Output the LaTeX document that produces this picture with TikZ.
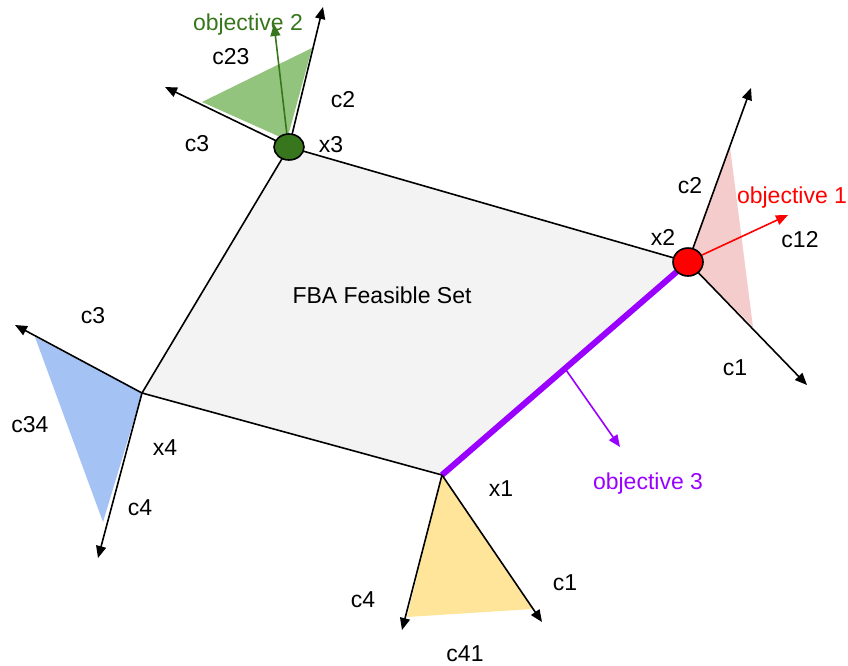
\documentclass[tikz,border=0pt]{standalone}
\usepackage{fontspec}
\setmainfont{Liberation Sans}
\usetikzlibrary{arrows.meta,shapes.geometric,calc}
\definecolor{fset}{HTML}{F3F3F3}
\definecolor{pinkfill}{HTML}{F4CCCC}
\definecolor{greenfill}{HTML}{93C47D}
\definecolor{bluefill}{HTML}{A4C2F4}
\definecolor{yellowfill}{HTML}{FFE599}
\definecolor{objpurple}{HTML}{9900FF}
\definecolor{objred}{HTML}{FF0000}
\definecolor{objgreen}{HTML}{38761D}
\begin{document}
\begin{tikzpicture}[x=1pt,y=-1pt,
  lbl/.style={font=\fontsize{23}{27}\selectfont, inner sep=0pt},
  ray/.style={draw=black, line width=1.6pt, -{Triangle[length=12pt,width=10pt]}},
  objarrow/.style={line width=1.6pt, -{Triangle[length=12pt,width=10pt]}},
  vertex/.style={ellipse, draw=black, line width=1.6pt, inner sep=0pt},
]
\useasboundingbox (0,0) rectangle (848,665);
% vertices
\coordinate (x3) at (289,147);
\coordinate (x2) at (688,262);
\coordinate (x1) at (442,475);
\coordinate (x4) at (142,393);
% ray ends
\coordinate (r3c2) at (323,7);
\coordinate (r3c3) at (165,87);
\coordinate (r2c2) at (751,88);
\coordinate (r2c1) at (807,385);
\coordinate (r4c3) at (15,325);
\coordinate (r4c4) at (98,558);
\coordinate (r1c4) at (402,630);
\coordinate (r1c1) at (542,622);
% feasible set
\fill[fset] (x3) -- (x2) -- (x1) -- (x4) -- cycle;
% cones
\fill[pinkfill] (x2) -- (730,147) -- (753,327) -- cycle;
\fill[greenfill] (287,140) -- (202,102) -- (312,48) -- cycle;
\fill[bluefill] (x4) -- (35,337) -- (103,522) -- cycle;
\fill[yellowfill] (x1) -- (407,617) -- (533,609) -- cycle;
% edges
\draw[line width=1.6pt] (x3) -- (x2) (x1) -- (x4) -- (x3);
\draw[objpurple, line width=6pt] (x1) -- (x2);
% rays
\draw[ray] (x3) -- (r3c2);
\draw[ray] (x3) -- (r3c3);
\draw[ray] (x2) -- (r2c2);
\draw[ray] (x2) -- (r2c1);
\draw[ray] (x4) -- (r4c3);
\draw[ray] (x4) -- (r4c4);
\draw[ray] (x1) -- (r1c4);
\draw[ray] (x1) -- (r1c1);
% objectives
\coordinate (o2s) at (287,135);
\coordinate (o2e) at (274,24);
\draw[objarrow, objgreen] (o2s) -- (o2e);
\coordinate (o1s) at (702,255);
\coordinate (o1e) at (788,215);
\draw[objarrow, objred] (o1s) -- (o1e);
\coordinate (o3s) at ($(x1)!0.5!(x2)$);
\coordinate (o3e) at (620,447);
\draw[objarrow, objpurple] (o3s) -- (o3e);
% vertex markers
\node[vertex, fill=objgreen, minimum width=30pt, minimum height=26pt] (v3) at (x3) {};
\node[vertex, fill=objred, minimum width=30pt, minimum height=28pt] (v2) at (x2) {};
% labels
\node[lbl] (tfset) at (382,295) {FBA Feasible Set};
\node[lbl, text=objgreen] (tobj2) at (248,25) {objective 2};
\node[lbl] (tc23) at (231,57) {c23};
\node[lbl] (tc2a) at (343,100) {c2};
\node[lbl] (tc3a) at (197,144) {c3};
\node[lbl] (tx3) at (331,145) {x3};
\node[lbl] (tc2b) at (690,186) {c2};
\node[lbl, text=objred] (tobj1) at (792,198) {objective 1};
\node[lbl] (tc12) at (800,240) {c12};
\node[lbl] (tx2) at (663,237) {x2};
\node[lbl] (tc1a) at (735,368) {c1};
\node[lbl, text=objpurple] (tobj3) at (648,484) {objective 3};
\node[lbl] (tx1) at (501,489) {x1};
\node[lbl] (tc1b) at (565,583) {c1};
\node[lbl] (tc4a) at (363,600) {c4};
\node[lbl] (tc41) at (465,654) {c41};
\node[lbl] (tc3b) at (93,316) {c3};
\node[lbl] (tc34) at (30,425) {c34};
\node[lbl] (tx4) at (165,448) {x4};
\node[lbl] (tc4b) at (140,508) {c4};
\end{tikzpicture}
\end{document}
